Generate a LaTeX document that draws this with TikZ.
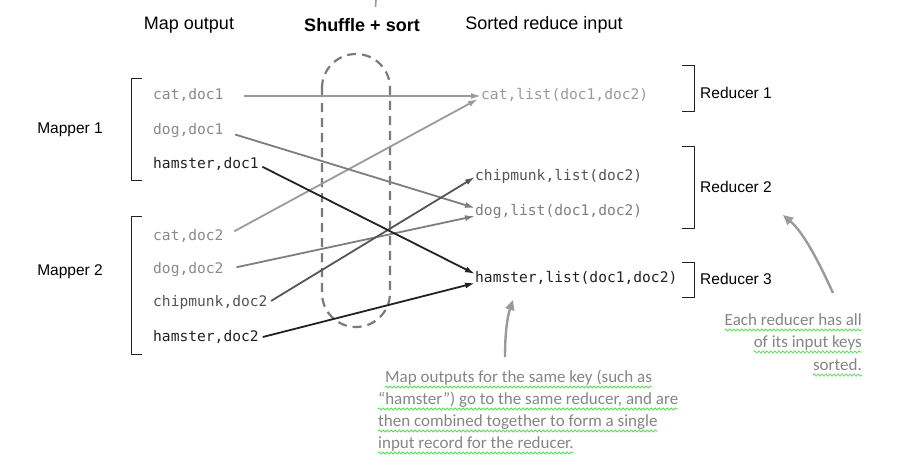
\documentclass[tikz,border=0pt]{standalone}
\usepackage{fontspec}
\setmainfont{Liberation Sans}
\newfontfamily\monof{DejaVu Sans Mono}
\newfontfamily\handf{Carlito}
\usetikzlibrary{arrows.meta,decorations.pathmorphing,calc}
\definecolor{catc}{HTML}{9A9A9A}
\definecolor{dogc}{HTML}{7E7E7E}
\definecolor{chipc}{HTML}{555555}
\definecolor{hamc}{HTML}{222222}
\definecolor{txtgray}{HTML}{8A8A8A}
\definecolor{capc}{HTML}{7A7A7A}
\definecolor{annc}{HTML}{858585}
\definecolor{squigc}{HTML}{55E055}
\tikzset{
  hdr/.style={font=\fontsize{18}{21}\selectfont, inner sep=0pt},
  lbl/.style={font=\fontsize{15.5}{18}\selectfont, inner sep=0pt},
  mono/.style={font=\monof\fontsize{14.6}{17}\selectfont, inner sep=0pt, anchor=west, text height=1.6ex, text depth=0.35ex},
  brk/.style={draw=hamc, line width=1pt},
  conn/.style={line width=1.8pt, -{Latex[length=10pt,width=6pt]}},
  hand/.style={font=\handf\fontsize{17}{20}\selectfont, text=annc, inner sep=0pt},
  squig/.style={draw=squigc, line width=0.8pt, decorate, decoration={snake, amplitude=1.1pt, segment length=4pt}},
  annarrow/.style={draw=catc, line width=2.4pt, -{Triangle[length=10pt,width=9pt]}},
}
\begin{document}
\begin{tikzpicture}[x=1pt,y=-1pt]
\useasboundingbox (0,0) rectangle (899,466);

% headers
\node[hdr] (h1) at (189,25) {Map output};
\node[hdr, font=\bfseries\fontsize{18}{21}\selectfont] (h2) at (362,25) {Shuffle + sort};
\node[hdr] (h3) at (544,25) {Sorted reduce input};

% top stub
\draw[catc, line width=1.6pt] (376,0) -- (375.5,7);

% mapper labels and brackets
\node[lbl] (m1) at (70,130) {Mapper 1};
\node[lbl] (m2) at (70,272) {Mapper 2};
\draw[brk] (142,78) -- (131,78) -- (131,180) -- (142,180);
\draw[brk] (142,216) -- (131,216) -- (131,354) -- (142,354);

% reducer brackets and labels
\draw[brk] (682,65) -- (694,65) -- (694,111) -- (682,111);
\draw[brk] (682,146) -- (694,146) -- (694,228) -- (682,228);
\draw[brk] (682,262) -- (694,262) -- (694,297) -- (682,297);
\node[lbl, anchor=west] (r1) at (700,93) {Reducer 1};
\node[lbl, anchor=west] (r2) at (700,187) {Reducer 2};
\node[lbl, anchor=west] (r3) at (700,279) {Reducer 3};

% shuffle capsule
\draw[capc, line width=2.2pt, dash pattern=on 9pt off 6pt, rounded corners=34pt] (322,54) rectangle (390,327);

% map outputs
\node[mono, text=txtgray] (c1) at (153,96) {cat,doc1};
\node[mono, text=txtgray] (d1) at (153,131) {dog,doc1};
\node[mono, text=hamc] (k1) at (153,165) {hamster,doc1};
\node[mono, text=txtgray] (c2) at (153,237) {cat,doc2};
\node[mono, text=txtgray] (d2) at (153,270) {dog,doc2};
\node[mono, text=chipc] (p2) at (153,303) {chipmunk,doc2};
\node[mono, text=hamc] (k2) at (153,338) {hamster,doc2};

% reduce inputs
\node[mono, text=catc] (cl) at (481,96) {cat,list(doc1,doc2)};
\node[mono, text=chipc] (pl) at (475,177) {chipmunk,list(doc2)};
\node[mono, text=dogc] (dl) at (475,212) {dog,list(doc1,doc2)};
\node[mono, text=hamc] (kl) at (475,279) {hamster,list(doc1,doc2)};

% connectors
\draw[conn, catc, shorten <=20pt] (c1.east) -- (cl.west);
\draw[conn, catc, shorten <=12pt] (c2.east) -- ([xshift=-3pt,yshift=-3pt]cl.west);
\draw[conn, dogc, shorten <=12pt] (d1.east) -- ([yshift=4pt]dl.west);
\draw[conn, dogc, shorten <=13pt] (d2.east) -- ([yshift=-4pt]dl.west);
\draw[conn, chipc, shorten <=4pt] (p2.east) -- (pl.west);
\draw[conn, hamc, shorten <=4pt] (k1.east) -- ([yshift=5pt]kl.west);
\draw[conn, hamc, shorten <=4pt] (k2.east) -- ([yshift=-4pt]kl.west);

% annotation 1
\node[hand, anchor=base west] (a1) at (385,382) {Map outputs for the same key (such as};
\node[hand, anchor=base west] (a2) at (378,404) {“hamster”) go to the same reducer, and are};
\node[hand, anchor=base west] (a3) at (378,426) {then combined together to form a single};
\node[hand, anchor=base west] (a4) at (378,448) {input record for the reducer.};
\foreach \n in {a1,a2,a3,a4}{
  \draw[squig] ([yshift=-5pt]\n.base west) -- ([yshift=-5pt]\n.base east);
}
\coordinate (t1) at (505,357);
\coordinate (e1) at (513,300);
\draw[annarrow] (t1) .. controls (505,335) and (507,318) .. (e1);

% annotation 2
\node[hand, anchor=base east] (b1) at (862,325) {Each reducer has all};
\node[hand, anchor=base east] (b2) at (862,347) {of its input keys};
\node[hand, anchor=base east] (b3) at (862,370) {sorted.};
\foreach \n in {b1,b2,b3}{
  \draw[squig] ([yshift=-5pt]\n.base west) -- ([yshift=-5pt]\n.base east);
}
\coordinate (t2) at (833,293);
\coordinate (e2) at (783,215);
\draw[annarrow] (t2) .. controls (818,260) and (803,232) .. (e2);
\end{tikzpicture}
\end{document}
